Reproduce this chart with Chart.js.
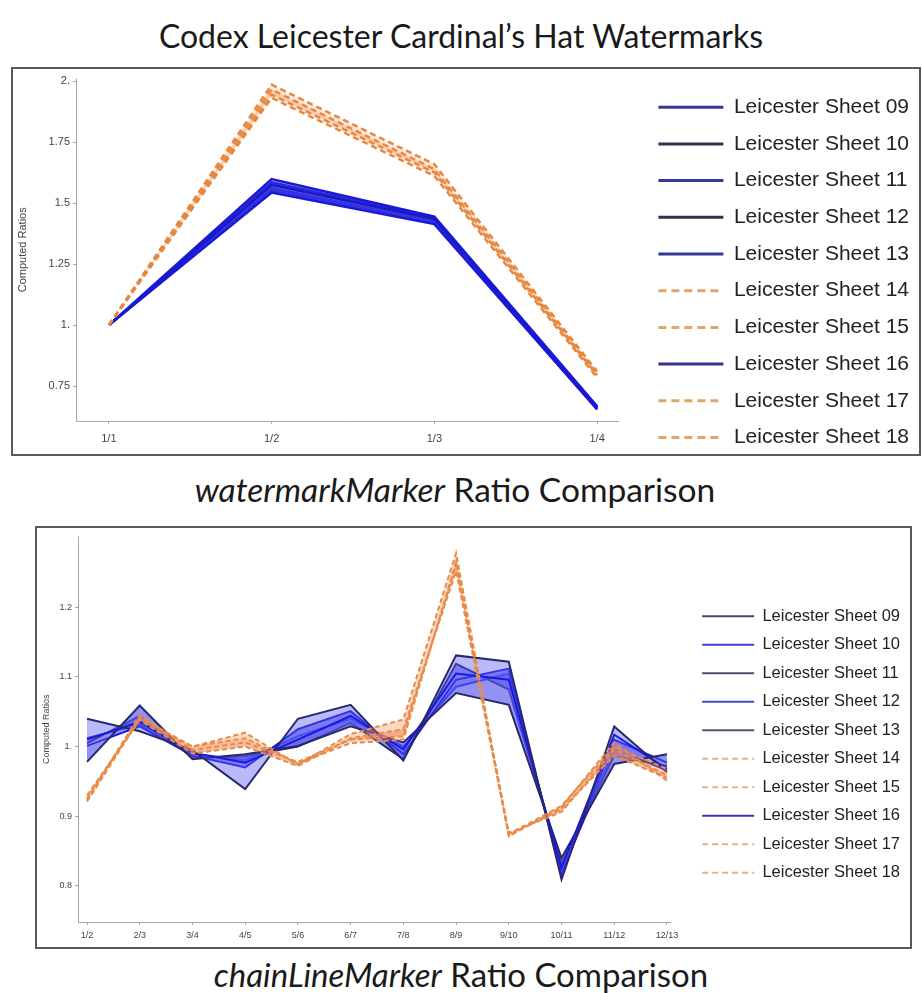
<!DOCTYPE html>
<html><head><meta charset="utf-8">
<script src="https://cdn.jsdelivr.net/npm/chart.js@4.4.1/dist/chart.umd.min.js"></script>
<style>
body{margin:0;background:#fff;width:922px;height:993px;position:relative;overflow:hidden;font-family:Lato,"Open Sans",sans-serif;}
.t{position:absolute;left:0;width:922px;text-align:center;color:#1a1a1a;white-space:nowrap;line-height:1;}
.frame{position:absolute;box-sizing:border-box;border:2px solid #5a5a5a;background:#fff;overflow:hidden;}
canvas{display:block}
</style></head><body>
<div class="t" style="top:20px;font-size:32px">Codex Leicester Cardinal’s Hat Watermarks</div>
<div class="frame" style="left:11px;top:67px;width:910px;height:389px"><canvas id="c1" width="906" height="420"></canvas></div>
<div class="t" style="top:473px;left:-6px;font-size:33.5px"><i>watermarkMarker</i> Ratio Comparison</div>
<div class="frame" style="left:35px;top:526px;width:877px;height:423px"><canvas id="c2" width="873" height="419"></canvas></div>
<div class="t" style="top:958px;font-size:33px"><i>chainLineMarker</i> Ratio Comparison</div>
<script>
// ---------- shared ----------
const sheetLabels = ['Leicester Sheet 09','Leicester Sheet 10','Leicester Sheet 11','Leicester Sheet 12','Leicester Sheet 13',
                     'Leicester Sheet 14','Leicester Sheet 15','Leicester Sheet 16','Leicester Sheet 17','Leicester Sheet 18'];
const sheetGroup = ['blue','blue','blue','blue','blue','orange','orange','blue','orange','orange'];

// ---------- watermarkMarker chart ----------
const wmCategories = ['1/1','1/2','1/3','1/4'];
const wmYTicks = [0.75, 1, 1.25, 1.5, 1.75, 2];
const wmSheet09 = [1, 1.598, 1.444, 0.667];
const wmSheet10 = [1, 1.575, 1.435, 0.662];
const wmSheet11 = [1, 1.543, 1.414, 0.654];
const wmSheet12 = [1, 1.585, 1.440, 0.665];
const wmSheet13 = [1, 1.560, 1.425, 0.658];
const wmSheet14 = [1, 1.985, 1.659, 0.810];
const wmSheet15 = [1, 1.944, 1.625, 0.795];
const wmSheet16 = [1, 1.550, 1.420, 0.656];
const wmSheet17 = [1, 1.965, 1.639, 0.800];
const wmSheet18 = [1, 1.931, 1.611, 0.785];
const wmSeries = [wmSheet09, wmSheet10, wmSheet11, wmSheet12, wmSheet13, wmSheet14, wmSheet15, wmSheet16, wmSheet17, wmSheet18];

// ---------- chainLineMarker chart ----------
const clCategories = ['1/2','2/3','3/4','4/5','5/6','6/7','7/8','8/9','9/10','10/11','11/12','12/13'];
const clYTicks = [0.8, 0.9, 1, 1.1, 1.2];
const clSheet09 = [1.040, 1.022, 0.995, 0.939, 1.040, 1.060, 0.980, 1.131, 1.122, 0.809, 1.029, 0.963];
const clSheet10 = [1.010, 1.036, 0.991, 0.977, 1.010, 1.044, 0.996, 1.105, 1.096, 0.826, 1.017, 0.968];
const clSheet11 = [0.978, 1.059, 0.982, 0.989, 1.001, 1.029, 1.006, 1.077, 1.060, 0.840, 0.975, 0.989];
const clSheet12 = [1.001, 1.029, 0.987, 0.970, 1.025, 1.051, 0.989, 1.096, 1.112, 0.815, 1.010, 0.977];
const clSheet13 = [1.005, 1.044, 0.984, 0.986, 1.000, 1.034, 0.982, 1.119, 1.082, 0.832, 0.987, 0.972];
const clSheet14 = [0.921, 1.040, 1.000, 1.020, 0.974, 1.018, 1.039, 1.278, 0.871, 0.913, 1.006, 0.951];
const clSheet15 = [0.925, 1.045, 0.995, 1.006, 0.978, 1.010, 1.015, 1.261, 0.876, 0.906, 0.996, 0.959];
const clSheet16 = [1.012, 1.032, 0.990, 0.980, 1.015, 1.040, 1.000, 1.086, 1.105, 0.820, 0.996, 0.966];
const clSheet17 = [0.930, 1.038, 0.990, 1.000, 0.972, 1.012, 1.025, 1.252, 0.873, 0.910, 0.987, 0.955];
const clSheet18 = [0.923, 1.042, 1.000, 1.012, 0.976, 1.005, 1.010, 1.265, 0.874, 0.915, 1.000, 0.968];
const clSeries = [clSheet09, clSheet10, clSheet11, clSheet12, clSheet13, clSheet14, clSheet15, clSheet16, clSheet17, clSheet18];

// ---------- styling ----------
function buildDatasets(series, st) {
  return series.map((vals, i) => {
    const g = sheetGroup[i];
    let target = false;
    for (let j = i - 1; j >= 0; j--) { if (sheetGroup[j] === g) { target = j; break; } }
    const isBlue = g === 'blue';
    return {
      label: sheetLabels[i],
      data: vals.map((v, k) => ({x: k + 1, y: v})),
      borderColor: isBlue ? st.blueColors[i] : st.orange,
      backgroundColor: isBlue ? st.blueFill : st.orangeFill,
      borderWidth: isBlue ? st.blueWidth : st.orangeWidth,
      borderDash: isBlue ? [] : st.dash,
      fill: target === false ? false : {target: target},
      pointRadius: 0,
      tension: 0,
      order: isBlue ? 1 : 0
    };
  });
}

function fmt(v) {
  return Number.isInteger(v) ? v + '.' : String(+v.toFixed(2));
}

const axisLinePlugin = {
  id: 'axisLine',
  afterDraw(chart, args, opts) {
    const {ctx, chartArea, scales} = chart;
    const xEnd = scales.x.getPixelForValue(opts.xEnd);
    ctx.save();
    ctx.strokeStyle = '#a8a8a8';
    ctx.lineWidth = 1;
    ctx.beginPath();
    ctx.moveTo(chartArea.left + 0.5, chartArea.top);
    ctx.lineTo(chartArea.left + 0.5, chartArea.bottom + 0.5);
    ctx.lineTo(xEnd, chartArea.bottom + 0.5);
    ctx.stroke();
    ctx.restore();
  }
};

function makeChart(id, cats, yTicks, series, cfg) {
  const st = cfg.style;
  const ch = new Chart(document.getElementById(id), {
    type: 'line',
    data: {datasets: buildDatasets(series, st)},
    plugins: [axisLinePlugin],
    options: {
      responsive: false, animation: false, devicePixelRatio: 1,
      layout: {padding: {top: cfg.padTop, left: 0, right: 0, bottom: 0}},
      plugins: {
        tooltip: {enabled: false},
        axisLine: {xEnd: cfg.xAxisEnd},
        legend: {
          position: 'right', align: 'start',
          title: {display: true, text: '', font: {size: 1, lineHeight: 1}, padding: {top: cfg.legendTop, bottom: 0}},
          labels: {
            usePointStyle: true, pointStyle: 'line', pointStyleWidth: cfg.legendLine,
            boxHeight: cfg.legendFont, padding: cfg.legendPad, color: '#222',
            font: {family: 'Liberation Sans, Arial, sans-serif', size: cfg.legendFont},
            sort: (a, b) => a.datasetIndex - b.datasetIndex,
            generateLabels: (chart) => {
              const items = Chart.defaults.plugins.legend.labels.generateLabels(chart);
              items.forEach(it => {
                const i = it.datasetIndex;
                const isBlue = sheetGroup[i] === 'blue';
                it.strokeStyle = isBlue ? st.legendBlue[i] : st.legendOrange;
                it.lineDash = isBlue ? [] : st.legendDash;
                it.lineWidth = st.legendWidth;
              });
              return items;
            }
          }
        }
      },
      scales: {
        x: {
          type: 'linear', min: cfg.xMin, max: cfg.xMax,
          afterFit: s => { s.height = cfg.xAxisH; },
          afterBuildTicks: s => { s.ticks = cats.map((c, i) => ({value: i + 1})); },
          grid: {display: true, drawOnChartArea: false, drawTicks: true, tickLength: 3, color: '#aaa'},
          border: {display: false},
          ticks: {color: '#444', autoSkip: false, maxRotation: 0, padding: cfg.xTickPad,
                  font: {family: 'Liberation Sans, Arial, sans-serif', size: cfg.tickFont},
                  callback: (v) => cats[Math.round(v) - 1]}
        },
        y: {
          type: 'linear', min: cfg.yMin, max: cfg.yMax,
          afterFit: s => { s.width = cfg.yAxisW; },
          afterBuildTicks: s => { s.ticks = yTicks.map(v => ({value: v})); },
          grid: {display: true, drawOnChartArea: false, drawTicks: true, tickLength: 3, color: '#aaa'},
          border: {display: false},
          ticks: {color: '#444', padding: 3,
                  font: {family: 'Liberation Sans, Arial, sans-serif', size: cfg.tickFont},
                  callback: (v) => fmt(v)},
          title: {display: true, text: 'Computed Ratios', color: '#444',
                  font: {family: 'Liberation Sans, Arial, sans-serif', size: cfg.titleFont},
                  padding: {top: cfg.yTitlePad, bottom: 0}}
        }
      }
    }
  });
  // allow the side legend to be wider than the default half-of-width cap
  const lg = ch.legend;
  const fit0 = lg.fit;
  lg.fit = function () { this.maxWidth = cfg.legendMaxW; return fit0.call(this); };
  ch.update('none');
  return ch;
}

makeChart('c1', wmCategories, wmYTicks, wmSeries, {
  padTop: 9, xMin: 0.798, xMax: 4.28, xAxisEnd: 4.135, yMin: 0.607, yMax: 2.01,
  xAxisH: 68, yAxisW: 63, xTickPad: 8, tickFont: 11, titleFont: 11, yTitlePad: 3,
  legendFont: 21, legendPad: 15.7, legendLine: 65, legendTop: 2, legendMaxW: 320,
  style: {
    blueColors: ['rgb(25,25,215)','rgb(25,25,200)','rgb(25,25,215)','rgb(25,25,200)','rgb(25,25,215)',null,null,'rgb(25,25,215)'],
    orange: 'rgb(232,135,62)', blueFill: 'rgba(60,60,230,0.5)', orangeFill: 'rgba(240,150,90,0.2)',
    blueWidth: 2.5, orangeWidth: 2.5, dash: [6, 4],
    legendBlue: ['rgb(55,55,150)','rgb(50,50,75)','rgb(55,55,150)','rgb(50,50,75)','rgb(55,55,150)',null,null,'rgb(50,50,135)'],
    legendOrange: 'rgb(226,165,105)', legendDash: [8, 5], legendWidth: 3
  }
});

makeChart('c2', clCategories, clYTicks, clSeries, {
  padTop: 4, xMin: 0.829, xMax: 12.44, xAxisEnd: 12.08, yMin: 0.748, yMax: 1.302,
  xAxisH: 25, yAxisW: 41, xTickPad: 5, tickFont: 9, titleFont: 9, yTitlePad: 4,
  legendFont: 16.5, legendPad: 12, legendLine: 52, legendTop: 63, legendMaxW: 260,
  style: {
    blueColors: ['rgb(40,40,110)','rgb(25,25,225)','rgb(40,40,110)','rgb(25,25,225)','rgb(40,40,110)',null,null,'rgb(25,25,225)'],
    orange: 'rgb(232,140,70)', blueFill: 'rgba(90,90,240,0.42)', orangeFill: 'rgba(240,140,90,0.35)',
    blueWidth: 2, orangeWidth: 2, dash: [5, 3],
    legendBlue: ['rgb(70,70,100)','rgb(65,65,200)','rgb(75,75,105)','rgb(70,70,195)','rgb(85,85,110)',null,null,'rgb(55,55,190)'],
    legendOrange: 'rgb(236,175,125)', legendDash: [6, 4], legendWidth: 2
  }
});
</script>
</body></html>
